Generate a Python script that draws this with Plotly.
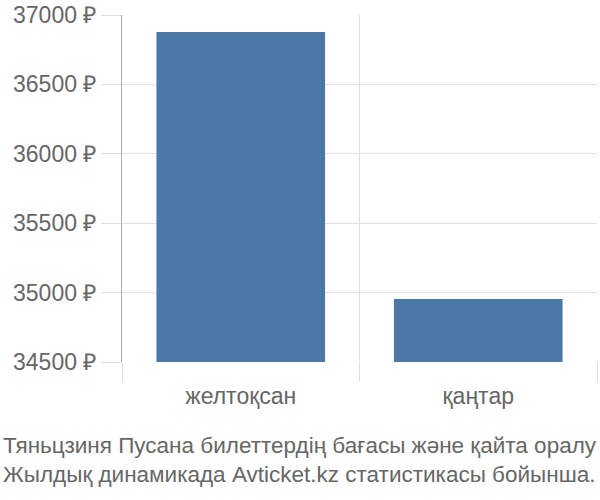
import plotly.graph_objects as go

months = ['желтоқсан', 'қаңтар']
prices = [36877, 34954]
y_ticks = [34500, 35000, 35500, 36000, 36500, 37000]
y_labels = [f'{v} ₽' for v in y_ticks]
caption = ('Тяньцзиня Пусана билеттердің бағасы және қайта оралу<br>'
           'Жылдық динамикада Avticket.kz статистикасы бойынша.')

W, H = 600, 500
ml, mr, mt, mb = 122, 3, 15, 138
pw, ph = W - ml - mr, H - mt - mb

fig = go.Figure()
fig.add_trace(go.Bar(
    x=months,
    y=prices,
    base=0,
    marker=dict(color='#4c78a8', line=dict(width=0)),
    hovertemplate='%{x}: %{y} ₽<extra></extra>',
))

fig.update_xaxes(showgrid=True,
                 gridcolor='#e0e0e0',
                 tickson='boundaries',
                 ticks='outside',
                 ticklen=18,
                 tickcolor='#dddddd',
                 ticklabelstandoff=18,
                 showline=False,
                 automargin=False,
                 tickfont=dict(family='Liberation Sans', size=23, color='#666666'))

fig.update_yaxes(range=[34500, 37000],
                 tickvals=y_ticks,
                 ticktext=y_labels,
                 showgrid=True,
                 gridcolor='#e0e0e0',
                 ticks='outside',
                 ticklen=20,
                 tickcolor='#dddddd',
                 showline=True,
                 linecolor='#aaaaaa',
                 zeroline=False,
                 automargin=False,
                 tickfont=dict(family='Liberation Sans', size=23, color='#666666'))

fig.add_annotation(text=caption,
                   xref='paper', yref='paper',
                   x=(1 - ml) / pw, y=-(460 - (H - mb)) / ph,
                   xanchor='left', yanchor='middle',
                   align='left', showarrow=False,
                   font=dict(family='Liberation Sans', size=22.5, color='#666666'))

fig.update_layout(width=W, height=H,
                  autosize=False,
                  margin=dict(l=ml, r=mr, t=mt, b=mb),
                  bargap=0.29,
                  showlegend=False,
                  plot_bgcolor='white',
                  paper_bgcolor='white')

# page has an 8px body margin by default, drop it so the chart sits at 0,0
fig.write_html('out.html',
               config={'displayModeBar': False},
               post_script="document.body.style.margin='0px';")
